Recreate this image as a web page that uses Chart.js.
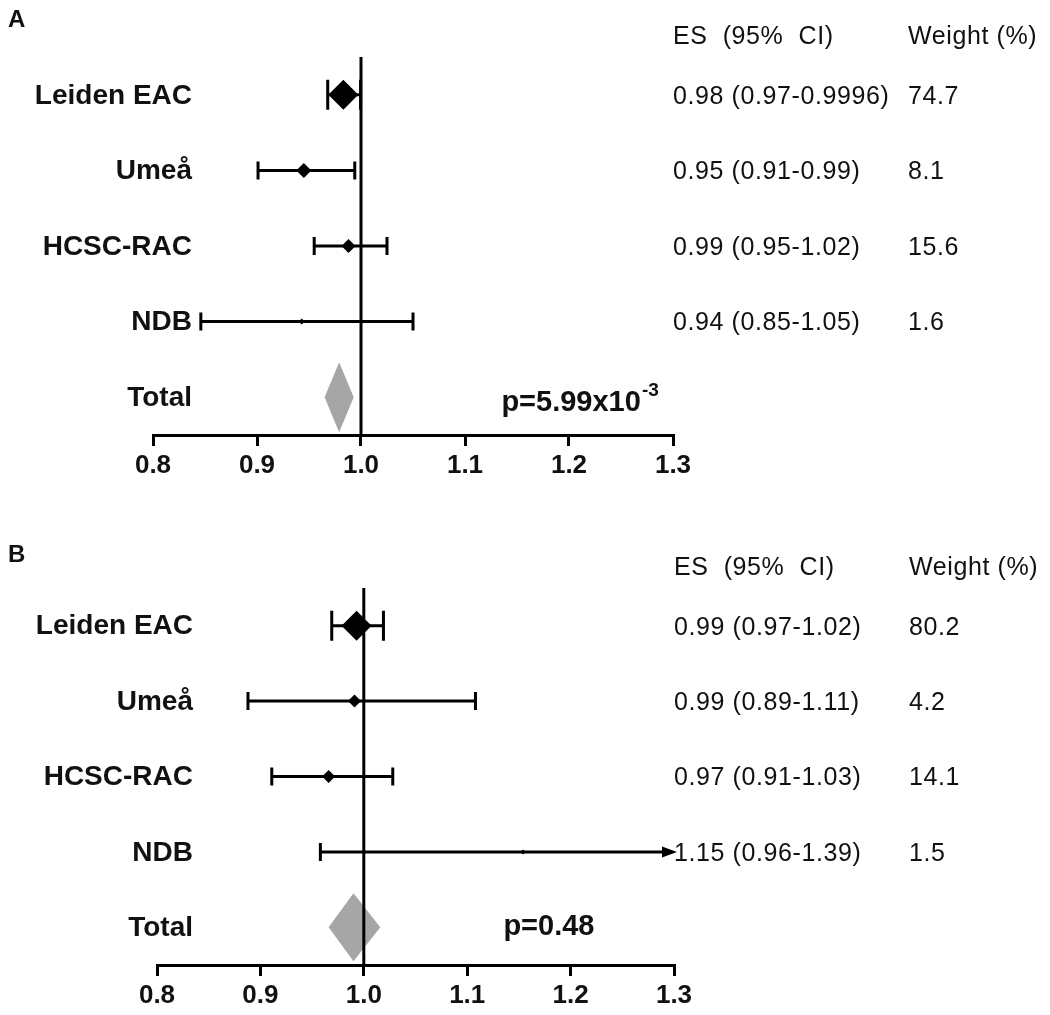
<!DOCTYPE html>
<html>
<head>
<meta charset="utf-8">
<title>Forest plots</title>
<script src="https://cdn.jsdelivr.net/npm/chart.js@4.4.1/dist/chart.umd.min.js"></script>
<style>
  html, body { margin: 0; padding: 0; background: #fff; }
  #wrap { position: relative; width: 1050px; height: 1015px; }
  canvas { position: absolute; left: 0; }
  #chartA { top: 0; }
  #chartB { top: 505px; }
</style>
</head>
<body>
<div id="wrap">
  <canvas id="chartA" width="1050" height="505"></canvas>
  <canvas id="chartB" width="1050" height="510"></canvas>
</div>
<script>
// rows, top to bottom
const studies = ['Leiden EAC', 'Umeå', 'HCSC-RAC', 'NDB', 'Total'];
const xTicks = [0.8, 0.9, 1.0, 1.1, 1.2, 1.3];

// panel A
const esA = [0.983, 0.945, 0.988, 0.943];
const lowA = [0.968, 0.901, 0.955, 0.846];
const highA = [0.9996, 0.994, 1.025, 1.05];
const totalA = [0.979, 0.965, 0.993]; // es, low, high
const ciTextA = ['0.98 (0.97-0.9996)', '0.95 (0.91-0.99)', '0.99 (0.95-1.02)', '0.94 (0.85-1.05)'];
const weightA = [74.7, 8.1, 15.6, 1.6];
const pValueA = ['p=5.99x10', '-3'];

// panel B
const esB = [0.993, 0.991, 0.966, 1.154];
const lowB = [0.969, 0.888, 0.911, 0.958];
const highB = [1.019, 1.108, 1.028, 1.39];
const totalB = [0.99, 0.966, 1.016];
const ciTextB = ['0.99 (0.97-1.02)', '0.99 (0.89-1.11)', '0.97 (0.91-1.03)', '1.15 (0.96-1.39)'];
const weightB = [80.2, 4.2, 14.1, 1.5];
const pValueB = ['p=0.48', ''];

// marker half sizes (px)
const sizeA = [15, 7.5, 7, 3];
const sizeB = [15, 6.5, 6.5, 2.5];

const FONT = '"Liberation Sans", Arial, Helvetica, sans-serif';
const INK = '#111';
const GREY = '#a6a6a6';

Chart.defaults.font.family = FONT;
Chart.defaults.color = INK;

function forestPlugin(p) {
  return {
    id: 'forest' + p.letter,
    beforeDatasetsDraw(chart) {
      const { ctx, chartArea, scales: { x, y } } = chart;
      ctx.save();

      // summary diamond
      const [tEs, tLo, tHi] = p.total;
      const yt = y.getPixelForValue(4);
      ctx.fillStyle = GREY;
      ctx.beginPath();
      ctx.moveTo(x.getPixelForValue(tLo), yt);
      ctx.lineTo(x.getPixelForValue(tEs), yt - p.totalHalf);
      ctx.lineTo(x.getPixelForValue(tHi), yt);
      ctx.lineTo(x.getPixelForValue(tEs), yt + p.totalHalf);
      ctx.closePath();
      ctx.fill();

      // line of no effect
      const x1 = x.getPixelForValue(1);
      ctx.strokeStyle = '#000';
      ctx.lineWidth = 3;
      ctx.beginPath();
      ctx.moveTo(x1, chartArea.top);
      ctx.lineTo(x1, chartArea.bottom);
      ctx.stroke();

      // confidence intervals
      p.low.forEach((lo, i) => {
        const hi = p.high[i];
        const yc = y.getPixelForValue(i);
        const xl = x.getPixelForValue(lo);
        const clipped = hi > x.max;
        const xh = x.getPixelForValue(clipped ? x.max : hi);
        const cap = Math.max(p.size[i], 9);
        ctx.lineWidth = 3;
        ctx.beginPath();
        ctx.moveTo(xl, yc);
        ctx.lineTo(clipped ? xh - 8 : xh, yc);
        ctx.moveTo(xl, yc - cap);
        ctx.lineTo(xl, yc + cap);
        if (!clipped) {
          ctx.moveTo(xh, yc - cap);
          ctx.lineTo(xh, yc + cap);
        }
        ctx.stroke();
        if (clipped) {
          ctx.fillStyle = '#000';
          ctx.beginPath();
          ctx.moveTo(xh + 3, yc);
          ctx.lineTo(xh - 12, yc - 5.5);
          ctx.lineTo(xh - 12, yc + 5.5);
          ctx.closePath();
          ctx.fill();
        }
      });
      ctx.restore();
    },
    afterDraw(chart) {
      const { ctx, chartArea, scales: { x, y } } = chart;
      ctx.save();
      ctx.fillStyle = INK;

      // panel letter
      ctx.font = 'bold 24px ' + FONT;
      ctx.textAlign = 'left';
      ctx.textBaseline = 'alphabetic';
      ctx.fillText(p.letter, 8, p.letterBase);

      // study names on the left
      ctx.font = 'bold 28px ' + FONT;
      ctx.textAlign = 'right';
      ctx.textBaseline = 'middle';
      studies.forEach((name, i) => {
        ctx.fillText(name, chartArea.left + p.labelGap, y.getPixelForValue(i) + 1);
      });

      // table on the right
      ctx.textAlign = 'left';
      const colES = chartArea.right;
      const colW = chartArea.right + 235;
      ctx.font = '25px ' + FONT;
      ctx.letterSpacing = '0.6px';
      const yHead = y.getPixelForValue(-0.76);
      ctx.fillText('ES  (95%  CI)', colES, yHead);
      ctx.fillText('Weight (%)', colW, yHead);
      p.ciText.forEach((t, i) => {
        const yc = y.getPixelForValue(i) + 2;
        ctx.fillText(t, colES, yc);
        ctx.fillText(p.weight[i].toFixed(1), colW, yc);
      });

      // p value
      ctx.letterSpacing = '0px';
      ctx.font = 'bold 29px ' + FONT;
      const px = x.getPixelForValue(1.135);
      const py = y.getPixelForValue(4) + p.pOffset;
      ctx.fillText(p.pValue[0], px, py);
      if (p.pValue[1]) {
        const w = ctx.measureText(p.pValue[0]).width;
        ctx.font = 'bold 19px ' + FONT;
        ctx.fillText(p.pValue[1], px + w + 1, py - 12);
      }
      ctx.restore();
    }
  };
}

function makeForest(canvasId, p) {
  const points = p.es.map((v, i) => ({ x: v, y: i }));
  return new Chart(document.getElementById(canvasId), {
    type: 'scatter',
    data: {
      datasets: [{
        data: points,
        pointStyle: 'rectRot',
        pointRadius: p.size,
        pointHoverRadius: p.size,
        backgroundColor: '#000',
        borderWidth: 0
      }]
    },
    options: {
      responsive: false,
      animation: false,
      events: [],
      layout: { padding: { top: p.top, right: 1050 - p.right, left: 0, bottom: 0 } },
      plugins: { legend: { display: false }, tooltip: { enabled: false } },
      scales: {
        x: {
          type: 'linear',
          min: xTicks[0],
          max: xTicks[xTicks.length - 1],
          afterBuildTicks: (s) => { s.ticks = xTicks.map(v => ({ value: v })); },
          afterFit: (s) => { s.height = p.height - p.bottom; },
          ticks: {
            autoSkip: false,
            maxRotation: 0,
            padding: 4,
            color: INK,
            font: { size: 26, weight: 'bold' },
            callback: (v) => Number(v).toFixed(1)
          },
          grid: { display: true, drawOnChartArea: false, drawTicks: true, tickLength: 11, lineWidth: 3, color: '#000' },
          border: { display: true, width: 3, color: '#000' }
        },
        y: {
          type: 'linear',
          position: 'left',
          reverse: true,
          min: -0.5,
          max: 4.5,
          afterFit: (s) => { s.width = p.left; },
          ticks: { display: false },
          grid: { display: false, drawTicks: false },
          border: { display: false }
        }
      }
    },
    plugins: [forestPlugin(p)]
  });
}

makeForest('chartA', {
  letter: 'A', letterBase: 27,
  es: esA, low: lowA, high: highA, total: totalA,
  ciText: ciTextA, weight: weightA, pValue: pValueA,
  size: sizeA, totalHalf: 35, pOffset: 6,
  left: 153, right: 673, top: 57, bottom: 435, height: 505, labelGap: 39
});

makeForest('chartB', {
  letter: 'B', letterBase: 57,
  es: esB, low: lowB, high: highB, total: totalB,
  ciText: ciTextB, weight: weightB, pValue: pValueB,
  size: sizeB, totalHalf: 34, pOffset: 0,
  left: 157, right: 674, top: 83, bottom: 460, height: 510, labelGap: 36
});
</script>
</body>
</html>
